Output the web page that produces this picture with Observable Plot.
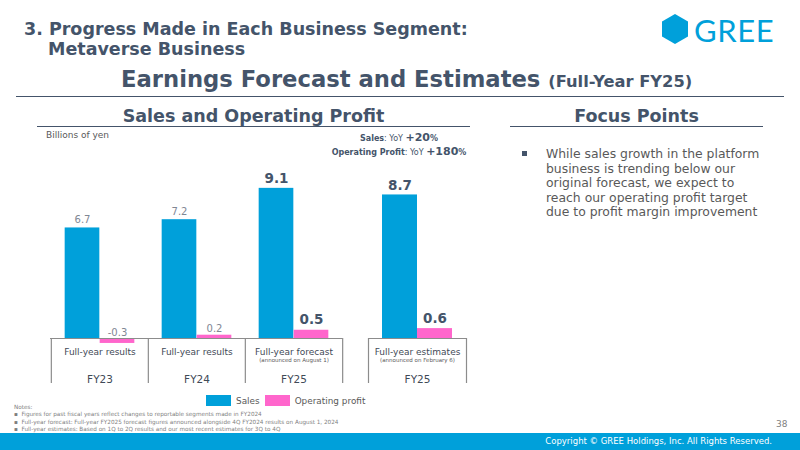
<!DOCTYPE html>
<html>
<head>
<meta charset="utf-8">
<script src="https://cdn.jsdelivr.net/npm/d3@7"></script>
<script src="https://cdn.jsdelivr.net/npm/@observablehq/plot@0.6"></script>
<style>
  html, body { margin: 0; padding: 0; background: #fff; }
  body { width: 800px; height: 450px; position: relative; overflow: hidden; font-family: "DejaVu Sans", Verdana, sans-serif; color: #44546A; }
  .abs { position: absolute; white-space: nowrap; }
  .h1 { font-weight: bold; font-size: 17.5px; line-height: 20px; }
  .h2 { font-weight: bold; font-size: 22.7px; }
  .h3 { font-weight: bold; font-size: 17.5px; }
  .rule { position: absolute; height: 0; border-top: 1.5px solid #44546A; }
  .legend { font-size: 8.9px; color: #595959; display: flex; align-items: center; }
  .sw { display: inline-block; width: 25px; height: 11px; margin-right: 5px; }
  .notes { font-size: 5.7px; color: #7f7f7f; line-height: 7.3px; }
  .panel { position: absolute; }
</style>
</head>
<body>
<div class="abs h1" style="left:24px; top:19px;">3. Progress Made in Each Business Segment:<br><span style="padding-left:24px">Metaverse Business</span></div>

<svg class="abs" style="left:660px; top:12px;" width="130" height="36" viewBox="0 0 130 36">
  <polygon points="15,2 28,9.5 28,24.5 15,32 2,24.5 2,9.5" fill="#00A0DA"/>
  <text x="34" y="30" font-family="Lato, 'Noto Sans', sans-serif" font-size="31" fill="#00A0DA" letter-spacing="0.6">GREE</text>
</svg>

<div class="abs h2" style="left:121px; top:66px;">Earnings Forecast and Estimates <span style="font-size:16.3px">(Full-Year FY25)</span></div>
<div class="rule" style="left:16px; width:768px; top:96px;"></div>

<div class="abs h3" style="left:37px; width:433px; top:106px; text-align:center;">Sales and Operating Profit</div>
<div class="rule" style="left:37px; width:433px; top:126px;"></div>
<div class="abs h3" style="left:510px; width:253px; top:106px; text-align:center;">Focus Points</div>
<div class="rule" style="left:510px; width:253px; top:126px;"></div>

<div class="abs" style="left:46px; top:130px; font-size:9px; color:#595959;">Billions of yen</div>
<div class="abs" id="yoy" style="left:300px; width:198px; top:131px; font-size:8px; text-align:center; line-height:13px; color:#44546A;"></div>

<div class="abs" style="left:521px; top:148px; width:8px; height:8px;"><div style="width:5px;height:5px;background:#44546A;margin-top:3px;margin-left:1px;"></div></div>
<div class="abs" id="focus" style="left:546px; top:147px; font-size:12.4px; line-height:14.6px; color:#595959; white-space:normal; width:220px;"></div>

<div class="panel" id="panelA"></div>
<div class="panel" id="panelB"></div>

<div class="abs legend" style="left:206px; top:395px;" id="legend"></div>

<div class="abs notes" style="left:14px; top:404px;">Notes:<br>
&#9642;&nbsp;&nbsp;Figures for past fiscal years reflect changes to reportable segments made in FY2024<br>
&#9642;&nbsp;&nbsp;Full-year forecast: Full-year FY2025 forecast figures announced alongside 4Q FY2024 results on August 1, 2024<br>
&#9642;&nbsp;&nbsp;Full-year estimates: Based on 1Q to 2Q results and our most recent estimates for 3Q to 4Q</div>

<div class="abs" style="left:776px; top:419px; font-size:9px; color:#7f7f7f;">38</div>
<div class="abs" style="left:0; top:433px; width:800px; height:17px; background:#00A0DA;"></div>
<div class="abs" style="right:28px; top:436px; font-size:8.5px; color:#fff;">Copyright © GREE Holdings, Inc. All Rights Reserved.</div>

<script>
// Sales and operating profit, billions of yen
const fiscalYears = ["FY23", "FY24", "FY25", "FY25"];
const basis = ["Full-year results", "Full-year results", "Full-year forecast", "Full-year estimates"];
const basisNotes = ["", "", "(announced on August 1)", "(announced on February 6)"];
const sales = [6.7, 7.2, 9.1, 8.7];
const operatingProfit = [-0.3, 0.2, 0.5, 0.6];
const seriesNames = ["Sales", "Operating profit"];
const seriesColors = ["#00A0DA", "#FF66CC"];
const yoyLines = [["Sales", "+20%"], ["Operating Profit", "+180%"]];
const focusPoints = ["While sales growth in the platform business is trending below our original forecast, we expect to reach our operating profit target due to profit margin improvement"];

const rows = fiscalYears.map((fy, i) => ({
  key: i,
  fy,
  basis: basis[i],
  note: basisNotes[i],
  sales: sales[i],
  profit: operatingProfit[i],
  plan: fy === "FY25"
}));

// header texts
document.getElementById("yoy").innerHTML = yoyLines.map(([k, v]) =>
  `<b>${k}</b>: YoY <b style="font-size:11px">${v.replace("%", "")}<span style="font-size:8px">%</span></b>`).join("<br>");
document.getElementById("focus").textContent = focusPoints[0];
document.getElementById("legend").innerHTML = seriesNames.map((s, i) =>
  `<span class="sw" style="background:${seriesColors[i]}"></span><span style="margin-right:${i ? 0 : 5}px">${s}</span>`).join("");

// shared vertical scale: pixels per billion yen, zero line and box depth
const PX = 16.5;
const TOP = 160, ZERO = 338, BOX = 45;
const yDomain = [-BOX / PX, (ZERO - TOP) / PX];
const BAR = 35;

// value labels: past results plain grey, FY25 figures bold
function valueLabels(data, bold) {
  const style = bold
    ? { fill: "#44546A", fontSize: 13.5, fontWeight: "bold" }
    : { fill: "#7f8794", fontSize: 10 };
  return [
    Plot.text(data, { x: "key", y: "sales", text: d => d.sales.toFixed(1), dx: -BAR / 2, dy: bold ? -5 : -5, lineAnchor: "bottom", ...style }),
    Plot.text(data, { x: "key", y: d => Math.max(0, d.profit), text: d => d.profit.toFixed(1), dx: BAR / 2, dy: bold ? -6 : -3, lineAnchor: "bottom", ...style })
  ];
}

function panel(el, data, left, width) {
  const step = width / data.length;
  const gap = (step - 2 * BAR) / 2;
  const chart = Plot.plot({
    width,
    height: ZERO - TOP + BOX,
    margin: 0,
    style: { fontFamily: "DejaVu Sans, Verdana, sans-serif", overflow: "visible", background: "transparent" },
    x: { type: "band", domain: data.map(d => d.key), padding: 0, axis: null },
    y: { domain: yDomain, axis: null },
    marks: [
      Plot.barY(data, { x: "key", y: "sales", fill: seriesColors[0], insetLeft: gap, insetRight: gap + BAR }),
      Plot.barY(data, { x: "key", y: "profit", fill: seriesColors[1], insetLeft: gap + BAR, insetRight: gap }),
      ...valueLabels(data.filter(d => !d.plan), false),
      ...valueLabels(data.filter(d => d.plan), true),
      // category boxes under the bars
      Plot.ruleY([0], { stroke: "#8c8c8c", strokeWidth: 1.2 }),
      Plot.ruleX(data, { x: "key", y1: 0, y2: yDomain[0], dx: -step / 2, stroke: "#8c8c8c", strokeWidth: 1.2 }),
      Plot.ruleX(data.slice(-1), { x: "key", y1: 0, y2: yDomain[0], dx: step / 2, stroke: "#8c8c8c", strokeWidth: 1.2 }),
      Plot.text(data, { x: "key", y: 0, text: "basis", dy: 14, fill: "#3f4a57", fontSize: 9 }),
      Plot.text(data, { x: "key", y: 0, text: "note", dy: 22, fill: "#595959", fontSize: 5.5 }),
      Plot.text(data, { x: "key", y: 0, text: "fy", dy: 41, fill: "#3f4a57", fontSize: 10.5 })
    ]
  });
  el.style.left = left + "px";
  el.style.top = TOP + "px";
  el.appendChild(chart);
}

panel(document.getElementById("panelA"), rows.slice(0, 3), 50, 292);
panel(document.getElementById("panelB"), rows.slice(3), 368, 98);
</script>
</body>
</html>
